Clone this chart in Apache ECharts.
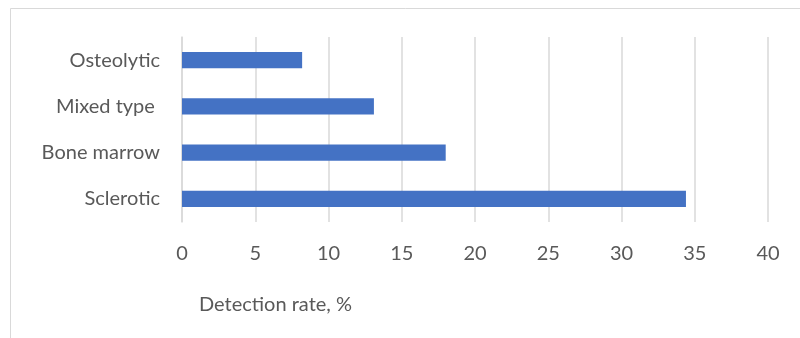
<!DOCTYPE html>
<html>
<head>
<meta charset="utf-8">
<script src="https://cdn.jsdelivr.net/npm/echarts@6/dist/echarts.min.js"></script>
<style>
html,body{margin:0;padding:0;background:#fff;}
#c{width:800px;height:338px;}
</style>
</head>
<body>
<div id="c"></div>
<script>
const categories = ['Sclerotic', 'Bone marrow', 'Mixed type ', 'Osteolytic'];
const detectionRate = [34.4, 18.0, 13.1, 8.2];
const xTicks = [0, 5, 10, 15, 20, 25, 30, 35, 40];
const axisTitle = 'Detection rate, %';

const chart = echarts.init(document.getElementById('c'), null, {renderer: 'canvas'});
const font = 'Lato, "Liberation Sans", sans-serif';
chart.setOption({
  animation: false,
  backgroundColor: '#ffffff',
  title: {
    text: axisTitle,
    left: 194,
    top: 290,
    textStyle: {fontFamily: font, fontSize: 20, fontWeight: 'normal', color: '#595959'}
  },
  graphic: [{
    type: 'rect',
    shape: {x: 10.5, y: 8.5, width: 900, height: 400},
    style: {fill: 'none', stroke: '#d9d9d9', lineWidth: 1},
    silent: true
  }],
  grid: {left: 182, right: 32, top: 37, bottom: 116, containLabel: false},
  xAxis: {
    type: 'value',
    min: xTicks[0],
    max: xTicks[xTicks.length - 1],
    interval: 5,
    axisLine: {show: false},
    axisTick: {show: false},
    splitLine: {show: true, lineStyle: {color: '#d9d9d9', width: 1.5}},
    axisLabel: {margin: 22, fontFamily: font, fontSize: 20, color: '#595959'}
  },
  yAxis: {
    type: 'category',
    data: categories,
    axisLine: {show: true, lineStyle: {color: '#d9d9d9', width: 1.5}},
    axisTick: {show: false},
    axisLabel: {margin: 22, fontFamily: font, fontSize: 20, color: '#595959'}
  },
  series: [{
    type: 'bar',
    data: detectionRate,
    barWidth: '35%',
    itemStyle: {color: '#4472C4'}
  }]
});
</script>
</body>
</html>
